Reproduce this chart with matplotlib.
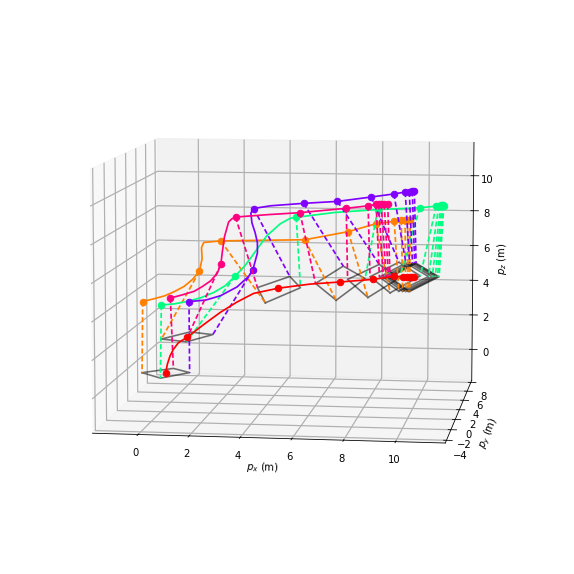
import numpy as np
import matplotlib
matplotlib.use('Agg')
import matplotlib.pyplot as plt

# formation centre at each waypoint
center_x = [0.20, 1.08, 4.79, 7.28, 8.58, 9.44, 9.78, 9.93, 10.05, 10.14, 10.20]
center_y = [0, 0, 0, 0, 0, 0, 0, 0, 0, 0, 0]
center_z = [0.31, 2.29, 5.05, 5.45, 5.62, 5.80, 5.80, 5.80, 5.80, 5.80, 5.80]

# corner offsets from the centre
orange_dx = [-0.97, -0.94, 0.08, 0.45, 0.36, 0.30, 0.24, 0.24, 0.24, 0.24, 0.24]
orange_dy = [0, -0.53, -3.8, -4.7, -4.7, -4.3, -3.85, -3.85, -3.85, -3.85, -3.85]
green_dx = [0, 0.18, 0.86, 0.87, 1.0, 1.0, 1.0, 1.0, 1.0, 1.0, 1.0]
green_dy = [-1.08, -1.03, 0.23, 1.04, 0.54, 0.27, 0.14, 0.14, 0.14, 0.14, 0.14]
purple_dx = [0.93, 0.91, -0.02, -0.45, -0.23, -0.25, -0.28, -0.28, -0.28, -0.28, -0.28]
purple_dy = [0.26, 0.78, 3.25, 4.45, 4.25, 4.05, 3.85, 3.85, 3.85, 3.85, 3.85]
magenta_dx = [0.10, -0.13, -0.85, -0.92, -0.99, -0.95, -0.91, -0.91, -0.91, -0.91, -0.91]
magenta_dy = [1.10, 1.30, 0.05, -0.53, -0.14, -0.20, -0.24, -0.24, -0.24, -0.24, -0.24]

# drone positions at each waypoint
orange_x = [-0.72, 1.60, 2.47, 5.85, 7.59, 8.68, 9.42, 9.70, 9.85, 9.95, 10.05]
orange_z = [4.18, 5.87, 7.53, 7.67, 8.14, 8.58, 8.73, 8.80, 8.81, 8.81, 8.82]
green_x = [0.04, 3.04, 5.51, 8.76, 10.43, 11.08, 11.18, 11.26, 11.30, 11.34, 11.38]
green_z = [4.01, 5.64, 8.86, 9.34, 9.47, 9.57, 9.58, 9.61, 9.61, 9.61, 9.61]
purple_x = [1.17, 3.76, 3.80, 5.81, 7.16, 8.50, 9.40, 9.85, 10.01, 10.13, 10.21]
purple_z = [4.23, 5.99, 9.29, 9.61, 9.74, 10.00, 10.18, 10.29, 10.30, 10.33, 10.36]
magenta_x = [0.41, 2.47, 3.07, 5.66, 7.51, 8.38, 8.70, 8.80, 8.90, 9.02, 9.16]
magenta_z = [4.40, 6.27, 8.82, 9.11, 9.38, 9.53, 9.61, 9.61, 9.62, 9.62, 9.63]

# flown paths, between waypoints 1 to 4, the rest follows the waypoints
red_path_x = [0.20, 0.27, 0.38, 0.52, 0.73, 1.08, 1.78, 2.45, 3.12, 3.79, 4.79, 6.05, 7.28]
red_path_z = [0.31, 0.80, 1.25, 1.62, 1.99, 2.29, 3.02, 3.69, 4.26, 4.74, 5.05, 5.30, 5.45]
orange_path_x = [-0.72, -0.24, 0.17, 0.57, 0.97, 1.31, 1.60, 1.71, 1.69, 1.78, 2.47, 4.10, 5.85]
orange_path_z = [4.18, 4.35, 4.51, 4.75, 5.04, 5.42, 5.87, 6.55, 7.15, 7.43, 7.53, 7.60, 7.67]
green_path_x = [0.04, 0.57, 1.11, 1.65, 2.18, 2.65, 3.04, 3.46, 3.79, 4.33, 4.87, 5.27, 5.51, 7.05, 8.76]
green_path_z = [4.01, 4.09, 4.24, 4.45, 4.75, 5.13, 5.64, 6.25, 6.85, 7.85, 8.50, 8.80, 8.86, 9.15, 9.34]
purple_path_x = [1.17, 1.85, 2.45, 3.12, 3.59, 3.76, 3.95, 3.95, 3.86, 3.73, 3.69, 3.80, 4.47, 5.81]
purple_path_z = [4.23, 4.33, 4.58, 5.07, 5.65, 5.99, 6.92, 7.47, 8.00, 8.53, 9.05, 9.29, 9.45, 9.61]
magenta_path_x = [0.41, 0.91, 1.38, 1.71, 2.05, 2.32, 2.47, 2.53, 2.62, 2.79, 2.92, 3.07, 4.40, 5.66]
magenta_path_z = [4.40, 4.59, 4.79, 5.05, 5.37, 5.78, 6.27, 6.92, 7.75, 8.55, 8.72, 8.82, 8.98, 9.11]

cx = np.array(center_x)
cy = np.array(center_y)
cz = np.array(center_z)

plt.rcParams['grid.linewidth'] = 1.2

fig = plt.figure(figsize=(574 / 72, 574 / 72), dpi=72)
ax = fig.add_axes([0.111, 0.115, 0.775, 0.77], projection='3d')

drones = [
    ('#ff8000', orange_x, orange_z, orange_dx, orange_dy, orange_path_x, orange_path_z),
    ('#00ff80', green_x, green_z, green_dx, green_dy, green_path_x, green_path_z),
    ('#8000ff', purple_x, purple_z, purple_dx, purple_dy, purple_path_x, purple_path_z),
    ('#ff0080', magenta_x, magenta_z, magenta_dx, magenta_dy, magenta_path_x, magenta_path_z),
]

# formation outlines
corner_x = np.array([cx + np.array(d[3]) for d in drones])
corner_y = np.array([cy + np.array(d[4]) for d in drones])
for k in range(len(cx)):
    ax.plot(np.r_[corner_x[:, k], corner_x[0, k]], np.r_[corner_y[:, k], corner_y[0, k]],
            np.full(5, cz[k]), color='k', alpha=0.55, lw=1.6)

for i, (col, ux, uz, dx, dy, px, pz) in enumerate(drones):
    line_x = px + ux[4:]
    line_z = pz + uz[4:]
    ax.plot(line_x, np.zeros(len(line_x)), line_z, color=col, lw=1.7)
    ax.plot(ux, np.zeros(len(ux)), uz, 'o', color=col, ms=6.5)
    for k in range(len(cx)):
        ax.plot([ux[k], corner_x[i, k]], [0, corner_y[i, k]], [uz[k], cz[k]], color=col, lw=1.7,
                linestyle=(0, (3, 1.6)))

red_x = red_path_x + center_x[4:]
red_z = red_path_z + center_z[4:]
ax.plot(red_x, np.zeros(len(red_x)), red_z, color='r', lw=1.7)
ax.plot(cx, cy, cz, 'o', color='r', ms=6.5)

ax.set_xlim(-1.8, 11.9)
ax.set_ylim(-4.5, 8.5)
ax.set_zlim(-1.8, 11.9)
ax.set_xticks([0, 2, 4, 6, 8, 10])
ax.set_yticks([-4, -2, 0, 2, 4, 6, 8])
ax.set_zticks([0, 2, 4, 6, 8, 10])
ax.tick_params(axis='x', pad=1.2)
ax.tick_params(axis='y', pad=1)
ax.tick_params(axis='z', pad=1)
ax.set_xlabel('$p_x$ (m)', labelpad=-1)
ax.set_ylabel('$p_y$ (m)', labelpad=-0.5)
ax.set_zlabel('$p_z$ (m)', labelpad=-1)
ax.view_init(elev=8, azim=-82)
ax.set_proj_type('persp', focal_length=1.12)
ax.set_box_aspect(None, zoom=1.185)

fig.savefig('out.png', dpi=72)
